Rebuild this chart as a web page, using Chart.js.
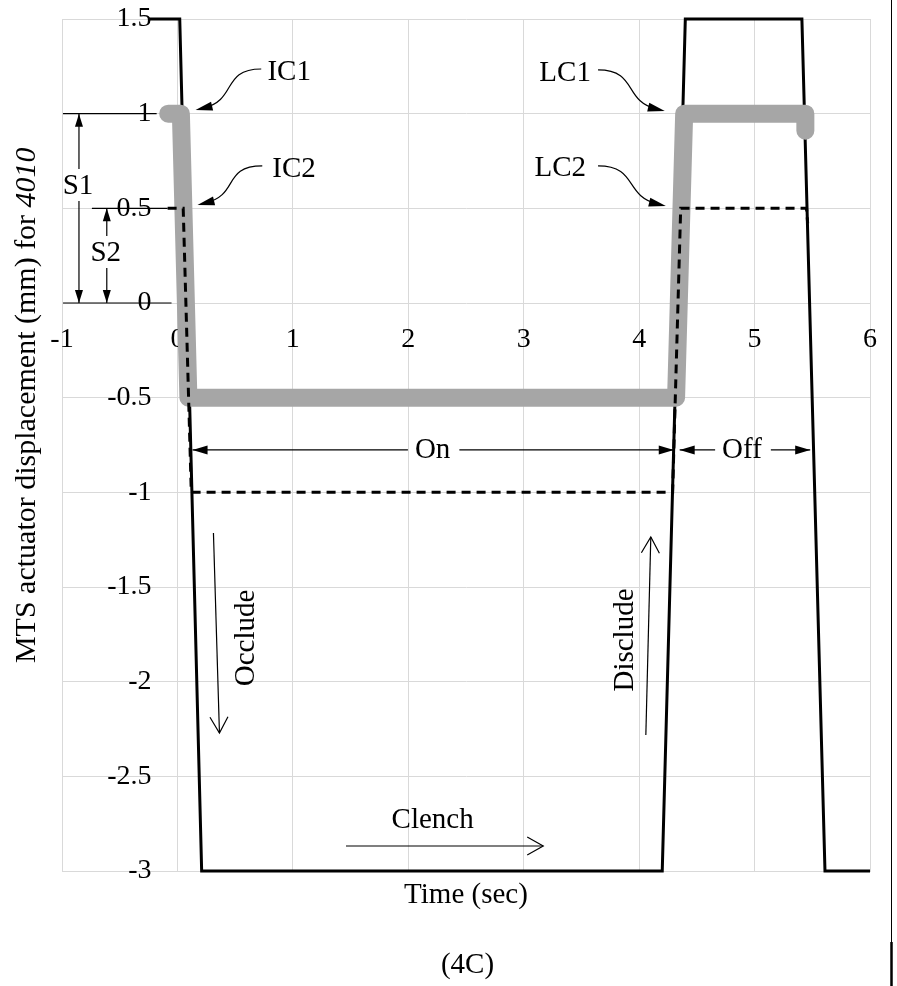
<!DOCTYPE html>
<html><head><meta charset="utf-8">
<script src="https://cdn.jsdelivr.net/npm/chart.js@4/dist/chart.umd.min.js"></script>
<style>html,body{margin:0;padding:0;background:#fff;}canvas{display:block;}</style>
</head><body>
<canvas id="c" width="897" height="986"></canvas>
<script>
// ---- data ----
const xTickValues = [-1, 0, 1, 2, 3, 4, 5, 6];
const xTickLabels = ['-1', '0', '1', '2', '3', '4', '5', '6'];
const yTickValues = [1.5, 1, 0.5, 0, -0.5, -1, -1.5, -2, -2.5, -3];
const yTickLabels = ['1.5', '1', '0.5', '0', '-0.5', '-1', '-1.5', '-2', '-2.5', '-3'];

// MTS actuator command (solid black)
const actuatorTime = [-0.25, 0.02, 0.21, 4.2, 4.4, 5.41, 5.61, 6];
const actuatorDisp = [1.5, 1.5, -3, -3, 1.5, 1.5, -3, -3];
// S1 response (thick gray)
const s1Time = [-0.08, 0.03, 0.095, 4.32, 4.39, 5.44, 5.44];
const s1Disp = [1, 1, -0.5, -0.5, 1, 1, 0.91];
// S2 response (dashed)
const s2Time = [-0.085, 0.05, 0.12, 4.29, 4.36, 5.45, 5.46];
const s2Disp = [0.5, 0.5, -1, -1, 0.5, 0.5, 0.42];

const xTitle = 'Time (sec)';
const yTitleMain = 'MTS actuator displacement (mm) for ';
const yTitleItalic = '4010';
const caption = '(4C)';

// ---- helpers ----
const FONT = '"Liberation Serif", "Times New Roman", serif';
const GRID = '#d9d9d9';
const pts = (t, v) => t.map((tt, i) => ({x: tt, y: v[i]}));
const setTicks = vals => scale => { scale.ticks = vals.map(v => ({value: v})); };

function headFilled(ctx, tx, ty, ang, len, half) {
  const c = Math.cos(ang), s = Math.sin(ang);
  ctx.beginPath();
  ctx.moveTo(tx, ty);
  ctx.lineTo(tx - len * c - half * s, ty - len * s + half * c);
  ctx.lineTo(tx - len * c + half * s, ty - len * s - half * c);
  ctx.closePath();
  ctx.fill();
}
function headOpen(ctx, tx, ty, ang, len, half) {
  const c = Math.cos(ang), s = Math.sin(ang);
  ctx.beginPath();
  ctx.moveTo(tx - len * c - half * s, ty - len * s + half * c);
  ctx.lineTo(tx, ty);
  ctx.lineTo(tx - len * c + half * s, ty - len * s - half * c);
  ctx.stroke();
}
function seg(ctx, x1, y1, x2, y2) {
  ctx.beginPath(); ctx.moveTo(x1, y1); ctx.lineTo(x2, y2); ctx.stroke();
}

const annotationPlugin = {
  id: 'annot',
  afterDatasetsDraw(chart) {
    const {ctx, scales: {x, y}} = chart;
    const X = v => x.getPixelForValue(v), Y = v => y.getPixelForValue(v);
    ctx.save();
    ctx.strokeStyle = '#000'; ctx.fillStyle = '#000';
    ctx.lineWidth = 1.2;
    ctx.font = '29px ' + FONT;
    ctx.textAlign = 'center'; ctx.textBaseline = 'middle';

    // dimension extension lines
    [[-0.991, -0.18, 1], [-0.991, -0.051, 0], [-0.741, -0.085, 0.5]].forEach(([a, b, v]) => seg(ctx, X(a), Y(v), X(b), Y(v)));
    // S1 / S2 dimension arrows
    [['S1', -0.853, 1, 0, 0.618], ['S2', -0.612, 0.5, 0, 0.264]].forEach(([t, ax, y1, y2, ty]) => {
      const px = X(ax), top = Y(y1), bot = Y(y2), cy = Y(ty);
      seg(ctx, px, top, px, cy - 17);
      seg(ctx, px, cy + 15, px, bot);
      headFilled(ctx, px, top, -Math.PI / 2, 13, 4);
      headFilled(ctx, px, bot, Math.PI / 2, 13, 4);
      ctx.fillText(t, px - 1, cy);
    });

    // curved callouts
    [['IC1', 0.968, 1.22, 0.726, 1.236, 0.157, 1.019, -1],
     ['IC2', 1.01, 0.708, 0.735, 0.724, 0.174, 0.518, -1],
     ['LC1', 3.359, 1.215, 3.644, 1.231, 4.222, 1.014, 1],
     ['LC2', 3.316, 0.713, 3.644, 0.724, 4.231, 0.512, 1]].forEach(([t, tx, ty, sx, sy, ex, ey, d]) => {
      ctx.fillText(t, X(tx), Y(ty));
      const S = [X(sx), Y(sy)], T = [X(ex), Y(ey)];
      const c1 = [S[0] + d * 40, S[1]], c2 = [T[0] - d * 42, T[1] - 10];
      ctx.beginPath(); ctx.moveTo(S[0], S[1]);
      ctx.bezierCurveTo(c1[0], c1[1], c2[0], c2[1], T[0] - d * 8, T[1] - 2);
      ctx.stroke();
      headFilled(ctx, T[0], T[1], Math.atan2(T[1] - c2[1], T[0] - c2[0]), 17, 4.5);
    });

    // On / Off span arrows
    [['On', 0.131, 4.30, 2.211], ['Off', 4.351, 5.482, 4.891]].forEach(([t, a, b, tc]) => {
      const yy = Y(-0.776), w = ctx.measureText(t).width, cx = X(tc);
      seg(ctx, X(a), yy, cx - w / 2 - 7, yy);
      seg(ctx, cx + w / 2 + 9, yy, X(b), yy);
      headFilled(ctx, X(a), yy, Math.PI, 15, 4.5);
      headFilled(ctx, X(b), yy, 0, 15, 4.5);
      ctx.fillText(t, cx, yy);
    });

    // Occlude / Disclude / Clench arrows
    [[0.312, -1.215, 0.364, -2.271], [4.058, -2.282, 4.101, -1.236], [1.46, -2.868, 3.169, -2.868]].forEach(([a, b, c, d]) => {
      const x1 = X(a), y1 = Y(b), x2 = X(c), y2 = Y(d);
      seg(ctx, x1, y1, x2, y2);
      headOpen(ctx, x2, y2, Math.atan2(y2 - y1, x2 - x1), 16, 9);
    });
    ctx.fillText('Clench', X(2.211), Y(-2.731));
    [['Occlude', 0.597, -1.769], ['Disclude', 3.885, -1.78]].forEach(([t, a, b]) => {
      ctx.save(); ctx.translate(X(a), Y(b)); ctx.rotate(-Math.PI / 2);
      ctx.fillText(t, 0, 0); ctx.restore();
    });

    // y-axis title with italic part
    ctx.save();
    ctx.translate(chart.chartArea.left - 35, Y(-0.54));
    ctx.rotate(-Math.PI / 2);
    ctx.textAlign = 'left';
    ctx.font = '30px ' + FONT;
    const w1 = ctx.measureText(yTitleMain).width;
    ctx.font = 'italic 30px ' + FONT;
    const w2 = ctx.measureText(yTitleItalic).width;
    const start = -(w1 + w2) / 2;
    ctx.font = '30px ' + FONT;
    ctx.fillText(yTitleMain, start, 0);
    ctx.font = 'italic 30px ' + FONT;
    ctx.fillText(yTitleItalic, start + w1, 0);
    ctx.restore();

    // page border at right
    ctx.lineWidth = 1;
    seg(ctx, 891.5, 0, 891.5, 942);
    ctx.lineWidth = 2.5;
    seg(ctx, 891.5, 942, 891.5, 986);
    ctx.restore();
  }
};

new Chart(document.getElementById('c'), {
  type: 'line',
  data: {
    datasets: [
      {label: 'S2', data: pts(s2Time, s2Disp), borderColor: '#000', borderWidth: 3, borderDash: [9, 6], pointRadius: 0, tension: 0, clip: false},
      {label: 'S1', data: pts(s1Time, s1Disp), borderColor: '#a6a6a6', borderWidth: 18, borderCapStyle: 'round', borderJoinStyle: 'round', pointRadius: 0, tension: 0, clip: false},
      {label: 'Actuator', data: pts(actuatorTime, actuatorDisp), borderColor: '#000', borderWidth: 3, pointRadius: 0, tension: 0, clip: false}
    ]
  },
  options: {
    responsive: false,
    animation: false,
    devicePixelRatio: 1,
    events: [],
    layout: {padding: {left: 62, right: 24, top: 19, bottom: 3.6}},
    plugins: {
      legend: {display: false},
      tooltip: {enabled: false},
      title: {display: true, text: caption, position: 'bottom', color: '#000', font: {family: FONT, size: 29, weight: 'normal'}, padding: {top: 35.2, bottom: 0}}
    },
    scales: {
      x: {type: 'linear', position: 'bottom', min: -1, max: 6, afterBuildTicks: setTicks(xTickValues),
          grid: {color: GRID, lineWidth: 1, drawTicks: false}, border: {color: GRID}, ticks: {display: false},
          title: {display: true, text: xTitle, color: '#000', font: {family: FONT, size: 29}, padding: {top: 6.6, bottom: 0}}},
      y: {type: 'linear', position: 'left', min: -3, max: 1.5, afterBuildTicks: setTicks(yTickValues),
          grid: {color: GRID, lineWidth: 1, drawTicks: false}, border: {color: GRID}, ticks: {display: false}},
      xLab: {type: 'linear', axis: 'x', position: {y: 0}, min: -1, max: 6, afterBuildTicks: setTicks(xTickValues),
          grid: {display: false, drawTicks: false}, border: {display: false},
          ticks: {color: '#000', font: {family: FONT, size: 28}, padding: 20, maxRotation: 0, autoSkip: false, callback: (v, i) => xTickLabels[i]}},
      yLab: {type: 'linear', axis: 'y', position: {x: -0.225}, min: -3, max: 1.5, afterBuildTicks: setTicks(yTickValues),
          grid: {display: false, drawTicks: false}, border: {display: false},
          ticks: {color: '#000', font: {family: FONT, size: 28}, padding: 0, autoSkip: false, callback: (v, i) => yTickLabels[i]}}
    }
  },
  plugins: [annotationPlugin]
});
</script>
</body></html>
